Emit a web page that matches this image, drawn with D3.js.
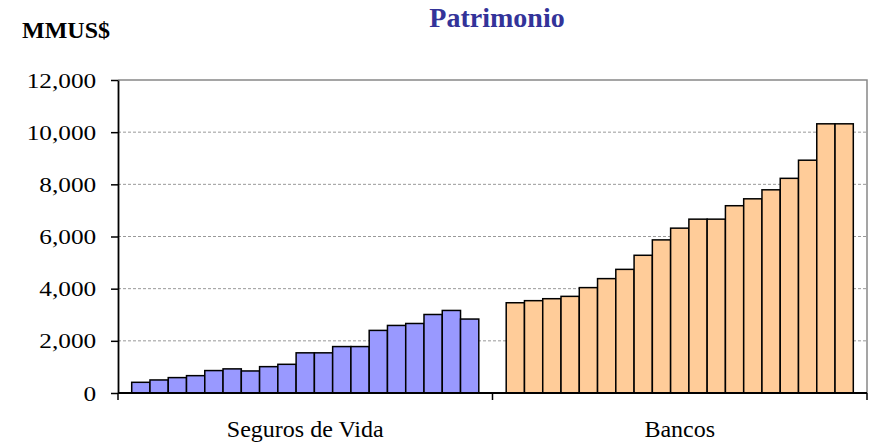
<!DOCTYPE html>
<html>
<head>
<meta charset="utf-8">
<title>Patrimonio</title>
<script src="https://cdn.jsdelivr.net/npm/d3@7"></script>
<style>
  body { margin: 0; background: #fff; }
  text { font-family: "Liberation Serif", "Times New Roman", serif; }
</style>
</head>
<body>
<svg id="chart" width="873" height="444"></svg>
<script>
// data (MMUS$)
const categories = ["Seguros de Vida", "Bancos"];
const segurosValues = [410, 500, 590, 665, 860, 925, 845, 1010, 1100, 1540, 1540,
  1780, 1780, 2400, 2590, 2665, 3010, 3165, 2835];
const bancosValues = [3460, 3540, 3615, 3705, 4040, 4385, 4740, 5280, 5870, 6320,
  6665, 6665, 7180, 7445, 7790, 8230, 8925, 10320, 10320];
const yTicks = [0, 2000, 4000, 6000, 8000, 10000, 12000];
const barColors = ["#9999FF", "#FFCC99"];

const margin = { top: 80, right: 6, bottom: 51, left: 118 };
const width = 873 - margin.left - margin.right,
  height = 444 - margin.top - margin.bottom;

const svg = d3.select("#chart");
const g = svg.append("g")
  .attr("transform", "translate(" + margin.left + "," + margin.top + ")");

const x0 = d3.scaleBand().domain(categories).range([0, width]).padding(0);
const x1 = d3.scaleBand()
  .domain(d3.range(segurosValues.length))
  .range([0, x0.bandwidth()])
  .paddingInner(0)
  .paddingOuter(0.75);
const y = d3.scaleLinear().domain([0, 12000]).range([height, 0]);

// gridlines
g.selectAll("line.grid")
  .data(yTicks.filter(d => d > 0 && d < 12000))
  .enter().append("line")
  .attr("x1", 0).attr("x2", width)
  .attr("y1", d => y(d)).attr("y2", d => y(d))
  .attr("stroke", "#999").attr("stroke-width", 1)
  .attr("stroke-dasharray", "3,2");

// plot border top/right
g.append("path")
  .attr("d", "M0," + y(12000) + "H" + width + "V" + height)
  .attr("fill", "none").attr("stroke", "#888").attr("stroke-width", 1.5);

// bars
const groups = [segurosValues, bancosValues];
groups.forEach((vals, i) => {
  g.append("g")
    .selectAll("rect")
    .data(vals)
    .enter().append("rect")
    .attr("x", (d, j) => x0(categories[i]) + x1(j))
    .attr("y", d => y(d))
    .attr("width", x1.bandwidth())
    .attr("height", d => height - y(d))
    .attr("fill", barColors[i])
    .attr("stroke", "#000")
    .attr("stroke-width", 1.5);
});

// y axis
const yAxis = g.append("g")
  .call(d3.axisLeft(y).tickValues(yTicks).tickFormat(d3.format(","))
    .tickSize(7).tickSizeOuter(0).tickPadding(12));
yAxis.select(".domain").attr("stroke", "#000").attr("stroke-width", 1.8);
yAxis.selectAll(".tick line").attr("stroke", "#000").attr("stroke-width", 1.5);
yAxis.selectAll("text")
  .attr("font-size", "22px")
  .attr("fill", "#000")
  .attr("transform", "scale(1.15,1)");

// x axis
const xAxis = g.append("g").attr("transform", "translate(0," + height + ")");
xAxis.append("line")
  .attr("x1", 0).attr("x2", width)
  .attr("stroke", "#000").attr("stroke-width", 1.8);
const bounds = [0].concat(categories.map(c => x0(c) + x0.bandwidth()));
xAxis.selectAll("line.tk")
  .data(bounds)
  .enter().append("line")
  .attr("x1", d => d).attr("x2", d => d)
  .attr("y1", 0).attr("y2", 7)
  .attr("stroke", "#000").attr("stroke-width", 1.5);
xAxis.selectAll("text")
  .data(categories)
  .enter().append("text")
  .attr("x", d => x0(d) + x0.bandwidth() / 2)
  .attr("y", 44)
  .attr("text-anchor", "middle")
  .attr("font-size", "24px")
  .attr("fill", "#000")
  .text(d => d);

// titles
svg.append("text")
  .attr("x", 497).attr("y", 27)
  .attr("text-anchor", "middle")
  .attr("font-size", "28px")
  .attr("font-weight", "bold")
  .attr("fill", "#333399")
  .text("Patrimonio");

svg.append("text")
  .attr("x", 22).attr("y", 38)
  .attr("font-size", "24px")
  .attr("font-weight", "bold")
  .attr("fill", "#000")
  .text("MMUS$");
</script>
</body>
</html>
